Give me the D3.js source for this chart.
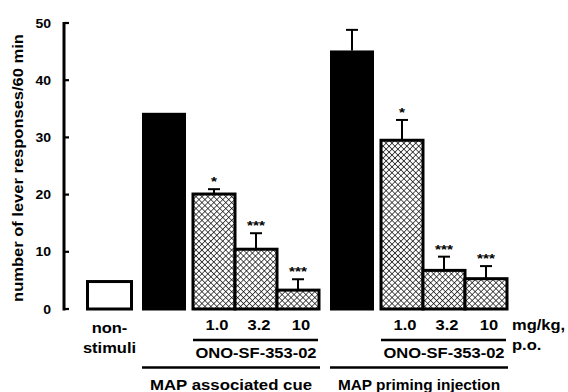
<!DOCTYPE html>
<html>
<head>
<meta charset="utf-8">
<script src="https://cdn.jsdelivr.net/npm/d3@7"></script>
<style>
  html, body { margin: 0; padding: 0; background: #fff; }
  svg { display: block; }
  text { font-family: "Liberation Sans", Arial, sans-serif; font-weight: bold; fill: #000; }
</style>
</head>
<body>
<svg id="chart" width="568" height="392"></svg>
<script>
// ---- data ----
const yTicks = [0, 10, 20, 30, 40, 50];
const doses = ["1.0", "3.2", "10"];
const groups = ["MAP associated cue", "MAP priming injection"];
const groupKeys = ["cue", "prime"];
const drugName = "ONO-SF-353-02";
const nonStimLabel = ["non-", "stimuli"];
const nonStimValue = 4.8;
const vehicleValues = [34.3, 45.2];        // black bars
const vehicleSEM = [0, 3.6];
const cueDoseValues = [20.1, 10.45, 3.3];
const cueDoseSEM = [0.85, 2.8, 1.9];
const primeDoseValues = [29.5, 6.75, 5.3];
const primeDoseSEM = [3.55, 2.4, 2.2];
const cueStars = ["*", "***", "***"];
const primeStars = ["*", "***", "***"];
const unitLabel = ["mg/kg,", "p.o."];
const yLabel = "number of lever responses/60 min";

// ---- layout ----
const svg = d3.select("#chart");
const SX = 1.18; // horizontal glyph stretch
const y = d3.scaleLinear().domain([0, 50]).range([309, 23]);
const groupX = d3.scaleOrdinal().domain(groupKeys).range([142, 330]);
const doseX = d3.scaleBand().domain(doses).range([51, 177]).paddingInner(0);
const vehicleW = 44;

// pattern
const defs = svg.append("defs");
const pat = defs.append("pattern").attr("id", "hatch")
  .attr("patternUnits", "userSpaceOnUse").attr("width", 4.2).attr("height", 4.2)
  .attr("patternTransform", "rotate(45)");
pat.append("rect").attr("width", 4.2).attr("height", 4.2).attr("fill", "#fff");
pat.append("line").attr("x1", 0).attr("y1", 0).attr("x2", 4.2).attr("y2", 0)
  .attr("stroke", "#000").attr("stroke-width", 1.3);
pat.append("line").attr("x1", 0).attr("y1", 0).attr("x2", 0).attr("y2", 4.2)
  .attr("stroke", "#000").attr("stroke-width", 1.3);

function stext(x, yy, str, size, anchor, sx) {
  return svg.append("text")
    .attr("transform", `translate(${x},${yy}) scale(${sx || SX},1)`)
    .attr("text-anchor", anchor || "middle")
    .style("font-size", size + "px")
    .text(str);
}

// ---- axis ----
const axisX = 64;
svg.append("line").attr("x1", axisX).attr("x2", axisX)
  .attr("y1", y(50) - 1).attr("y2", y(0) + 1.5)
  .attr("stroke", "#000").attr("stroke-width", 3);
yTicks.forEach(t => {
  svg.append("line").attr("x1", axisX).attr("x2", axisX + 5)
    .attr("y1", y(t)).attr("y2", y(t))
    .attr("stroke", "#000").attr("stroke-width", 2.2);
  stext(51, y(t) + 4.5, String(t), 12.5, "end", 1.12);
});
svg.append("text")
  .attr("transform", `translate(23,${(y(0) + y(50)) / 2 + 2}) rotate(-90) scale(${SX},1)`)
  .attr("text-anchor", "middle").style("font-size", "14px").text(yLabel);

// ---- non-stimuli bar ----
svg.append("rect").attr("x", 87.5).attr("width", 44)
  .attr("y", y(nonStimValue)).attr("height", y(0) - y(nonStimValue))
  .attr("fill", "#fff").attr("stroke", "#000").attr("stroke-width", 3);
stext(109.5, 333, nonStimLabel[0], 14);
stext(109.5, 353, nonStimLabel[1], 14);

// ---- groups ----
const doseVals = { cue: cueDoseValues, prime: primeDoseValues };
const doseSEM = { cue: cueDoseSEM, prime: primeDoseSEM };
const stars = { cue: cueStars, prime: primeStars };

function errorBar(cx, v, sem) {
  if (!sem) return;
  svg.append("line").attr("x1", cx).attr("x2", cx)
    .attr("y1", y(v)).attr("y2", y(v + sem))
    .attr("stroke", "#000").attr("stroke-width", 2);
  svg.append("line").attr("x1", cx - 6).attr("x2", cx + 6)
    .attr("y1", y(v + sem)).attr("y2", y(v + sem))
    .attr("stroke", "#000").attr("stroke-width", 2);
}

groupKeys.forEach((g, gi) => {
  const gx = groupX(g);
  // vehicle (black)
  const vv = vehicleValues[gi];
  svg.append("rect").attr("x", gx).attr("width", vehicleW)
    .attr("y", y(vv)).attr("height", y(0) - y(vv) + 1.5).attr("fill", "#000");
  errorBar(gx + vehicleW / 2, vv, vehicleSEM[gi]);

  // doses (hatched)
  doses.forEach((d, di) => {
    const v = doseVals[g][di];
    const bx = gx + doseX(d);
    svg.append("rect").attr("x", bx).attr("width", doseX.bandwidth())
      .attr("y", y(v)).attr("height", y(0) - y(v))
      .attr("fill", "url(#hatch)").attr("stroke", "#000").attr("stroke-width", 3);
  });
  doses.forEach((d, di) => {
    const v = doseVals[g][di];
    const s = doseSEM[g][di];
    const cx = gx + doseX(d) + doseX.bandwidth() / 2;
    errorBar(cx, v, s);
    stext(cx, y(v + s) - 3, stars[g][di], 13);
    stext(cx + 3, 330, d, 14);
  });

  // drug underline and label
  svg.append("line").attr("x1", gx + doseX.range()[0]).attr("x2", gx + doseX.range()[1] - 1)
    .attr("y1", 340).attr("y2", 340).attr("stroke", "#000").attr("stroke-width", 2.5);
  stext(gx + (doseX.range()[0] + doseX.range()[1]) / 2, 358, drugName, 14);

  // group underline and label
  svg.append("line").attr("x1", gx).attr("x2", gx + 178)
    .attr("y1", 367.5).attr("y2", 367.5).attr("stroke", "#000").attr("stroke-width", 2.5);
  stext(gx + 89, 390, groups[gi], 14, "middle", gi === 0 ? 1.2 : 1.1);
});

stext(512, 330, unitLabel[0], 14, "start");
stext(512, 350, unitLabel[1], 14, "start");
</script>
</body>
</html>
